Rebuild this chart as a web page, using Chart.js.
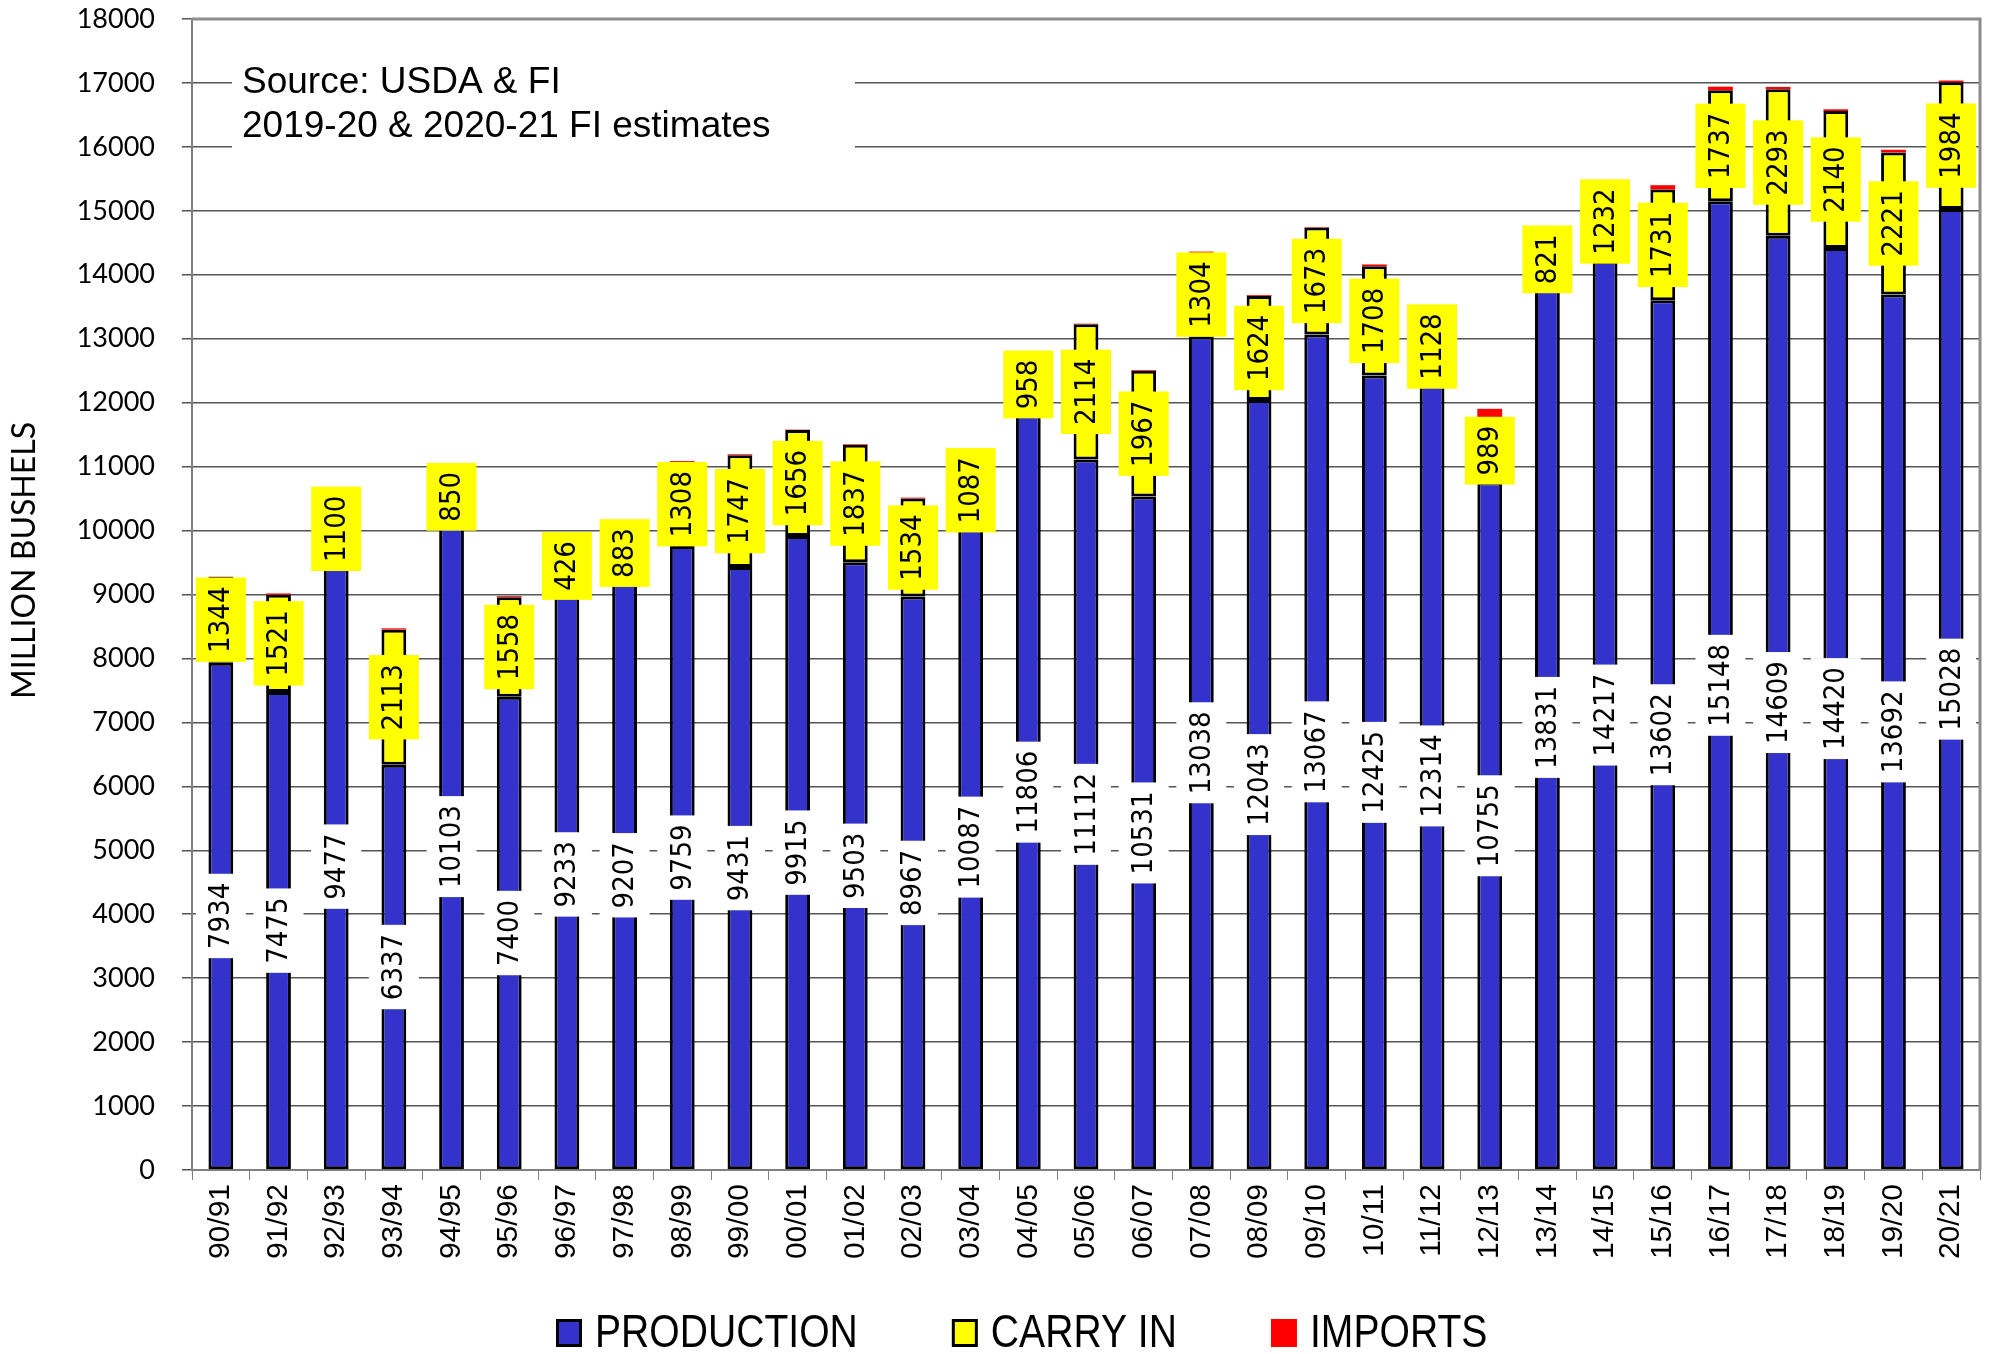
<!DOCTYPE html>
<html>
<head>
<meta charset="utf-8">
<title>Corn supply</title>
<script src="https://cdn.jsdelivr.net/npm/chart.js@4.4.0/dist/chart.umd.min.js"></script>
<style>
  html, body { margin: 0; padding: 0; background: #fff; }
</style>
</head>
<body>
<canvas id="chart" width="1995" height="1354"></canvas>
<script>
// crop years
const years = ['90/91', '91/92', '92/93', '93/94', '94/95', '95/96', '96/97', '97/98', '98/99', '99/00',
  '00/01', '01/02', '02/03', '03/04', '04/05', '05/06', '06/07', '07/08', '08/09', '09/10',
  '10/11', '11/12', '12/13', '13/14', '14/15', '15/16', '16/17', '17/18', '18/19', '19/20', '20/21'];

// million bushels
const production = [7934, 7475, 9477, 6337, 10103, 7400, 9233, 9207, 9759, 9431,
  9915, 9503, 8967, 10087, 11806, 11112, 10531, 13038, 12043, 13067,
  12425, 12314, 10755, 13831, 14217, 13602, 15148, 14609, 14420, 13692, 15028];
const carryIn = [1344, 1521, 1100, 2113, 850, 1558, 426, 883, 1308, 1747,
  1656, 1837, 1534, 1087, 958, 2114, 1967, 1304, 1624, 1673,
  1708, 1128, 989, 821, 1232, 1731, 1737, 2293, 2140, 2221, 1984];
const imports = [3, 20, 7, 21, 10, 16, 13, 9, 19, 15,
  7, 10, 14, 14, 11, 9, 12, 20, 14, 8,
  28, 29, 160, 36, 32, 68, 57, 36, 28, 42, 25];

const yMin = 0;
const yMax = 18000;
const yStep = 1000;

const yTitle = 'MILLION BUSHELS';
const noteLines = ['Source: USDA & FI', '2019-20 & 2020-21 FI estimates'];

const extras = {
  id: 'extras',
  beforeDatasetsDraw(chart) {
    const { ctx, chartArea: a } = chart;
    ctx.save();
    // note box sits on top of the grid
    ctx.fillStyle = '#fff';
    ctx.fillRect(232, 48, 623, 102);
    ctx.fillStyle = '#000';
    ctx.font = '37px "Liberation Sans", Arial, sans-serif';
    ctx.textBaseline = 'alphabetic';
    ctx.fillText(noteLines[0], 242, 93);
    ctx.fillText(noteLines[1], 242, 137);
    // top and right frame
    ctx.strokeStyle = '#8c8c8c';
    ctx.lineWidth = 3;
    ctx.beginPath();
    ctx.moveTo(a.left, a.top);
    ctx.lineTo(a.right, a.top);
    ctx.lineTo(a.right, a.bottom);
    ctx.stroke();
    // axis title
    ctx.translate(25, (a.top + a.bottom) / 2 - 34);
    ctx.rotate(-Math.PI / 2);
    ctx.font = '32px Lato, sans-serif';
    ctx.textAlign = 'center';
    ctx.textBaseline = 'middle';
    ctx.fillText(yTitle, 0, 0);
    ctx.restore();
  },
  afterDatasetsDraw(chart) {
    const ctx = chart.ctx;
    [[0, '#ffffff'], [1, '#ffff00']].forEach(([di, fill]) => {
      chart.getDatasetMeta(di).data.forEach((bar, i) => {
        const txt = String(chart.data.datasets[di].data[i]);
        const cy = (bar.y + bar.base) / 2;
        ctx.save();
        ctx.translate(bar.x, cy);
        ctx.rotate(-Math.PI / 2);
        ctx.font = '29px "DejaVu Sans Condensed", "DejaVu Sans", sans-serif';
        const w = ctx.measureText(txt).width + 18;
        ctx.fillStyle = fill;
        ctx.fillRect(-w / 2, -25, w, 50);
        ctx.fillStyle = '#000';
        ctx.textAlign = 'center';
        ctx.textBaseline = 'middle';
        ctx.fillText(txt, 0, 1);
        ctx.restore();
      });
    });
  },
  afterDraw(chart) {
    // legend row
    const ctx = chart.ctx;
    ctx.save();
    ctx.font = '46px "Liberation Sans", Arial, sans-serif';
    ctx.textBaseline = 'middle';
    let x = 556;
    chart.data.datasets.forEach(ds => {
      ctx.fillStyle = ds.backgroundColor;
      ctx.fillRect(x, 1319, 26, 28);
      if (ds.borderWidth) {
        ctx.strokeStyle = '#000';
        ctx.lineWidth = 3;
        ctx.strokeRect(x + 1.5, 1320.5, 23, 25);
      }
      ctx.save();
      ctx.translate(x + 39, 1334);
      ctx.scale(0.85, 1);
      ctx.fillStyle = '#000';
      ctx.fillText(ds.label, 0, 0);
      const tw = ctx.measureText(ds.label).width * 0.85;
      ctx.restore();
      x += 39 + tw + 94;
    });
    ctx.restore();
  }
};

new Chart(document.getElementById('chart').getContext('2d'), {
  type: 'bar',
  data: {
    labels: years,
    datasets: [
      { label: 'PRODUCTION', data: production, backgroundColor: '#3333cc', borderColor: '#000', borderWidth: 3, borderSkipped: false },
      { label: 'CARRY IN', data: carryIn, backgroundColor: '#ffff00', borderColor: '#000', borderWidth: 3, borderSkipped: false },
      { label: 'IMPORTS', data: imports, backgroundColor: '#ff0000', borderWidth: 0 }
    ]
  },
  options: {
    responsive: false,
    animation: false,
    devicePixelRatio: 1,
    layout: { padding: { top: 19, right: 15, left: 0, bottom: 0 } },
    datasets: { bar: { barPercentage: 0.43, categoryPercentage: 1.0 } },
    scales: {
      x: {
        stacked: true,
        afterFit(scale) {
          scale.height = 184;
          scale.paddingLeft = 0;
          scale.paddingRight = 0;
        },
        ticks: {
          color: '#000',
          font: { family: '"Liberation Sans", Arial, sans-serif', size: 30 },
          minRotation: 90,
          maxRotation: 90,
          autoSkip: false,
          padding: 4
        },
        grid: { drawOnChartArea: false, tickLength: 10, color: '#808080', offset: true },
        border: { color: '#808080', width: 2 }
      },
      y: {
        stacked: true,
        min: yMin,
        max: yMax,
        afterFit(scale) {
          scale.width = 192;
          scale.paddingTop = 0;
          scale.paddingBottom = 0;
        },
        ticks: {
          stepSize: yStep,
          color: '#000',
          font: { family: 'Lato, sans-serif', size: 27 },
          padding: 27,
          callback: v => String(v)
        },
        grid: { color: '#555', lineWidth: 1.5, tickLength: 10 },
        border: { color: '#808080', width: 2 }
      }
    },
    plugins: {
      tooltip: { enabled: false },
      legend: { display: false }
    }
  },
  plugins: [extras]
});
</script>
</body>
</html>
